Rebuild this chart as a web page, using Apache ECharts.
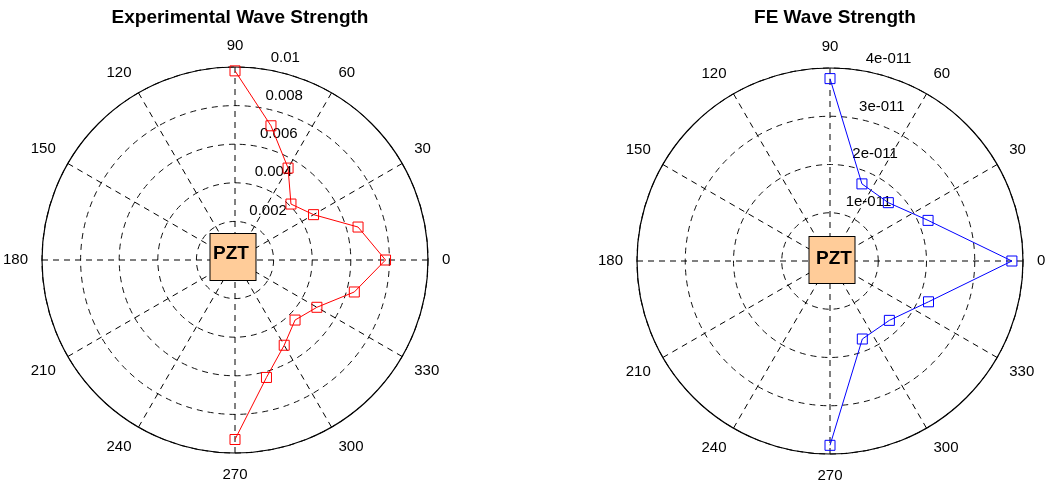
<!DOCTYPE html>
<html>
<head>
<meta charset="utf-8">
<script src="https://cdn.jsdelivr.net/npm/echarts@6/dist/echarts.min.js"></script>
<style>html,body{margin:0;padding:0;background:#fff}#c{width:1045px;height:488px}</style>
</head>
<body>
<div id="c"></div>
<script>
// ---- data ----
const titles = ['Experimental Wave Strength', 'FE Wave Strength'];
const expAngles = [90, 75, 60, 45, 30, 15, 0, 345, 330, 315, 300, 285, 270];
const expValues = [0.0098, 0.0072, 0.0055, 0.0041, 0.0047, 0.0066, 0.0078, 0.0064, 0.0049, 0.0044, 0.0051, 0.0063, 0.0093];
const feAngles = [90, 67.5, 45, 22.5, 0, 337.5, 315, 292.5, 270];
const feValues = [3.78e-11, 1.73e-11, 1.71e-11, 2.2e-11, 3.77e-11, 2.21e-11, 1.74e-11, 1.75e-11, 3.82e-11];
const angleTicks = [0, 30, 60, 90, 120, 150, 180, 210, 240, 270, 300, 330];
const expRadiusTicks = [0.002, 0.004, 0.006, 0.008, 0.01];
const expRadiusLabels = ['0.002', '0.004', '0.006', '0.008', '0.01'];
const feRadiusTicks = [1e-11, 2e-11, 3e-11, 4e-11];
const feRadiusLabels = ['1e-011', '2e-011', '3e-011', '4e-011'];
const boxLabel = 'PZT';

const FONT = 'Liberation Sans, Arial, sans-serif';
const chart = echarts.init(document.getElementById('c'));

const panels = [
  {center: [235, 260], radius: 193, max: 0.01, step: 0.002, ticks: expRadiusTicks, labels: expRadiusLabels,
   angles: expAngles, values: expValues, color: '#ff0000', boxOffset: [-2, -3]},
  {center: [830, 261], radius: 193, max: 4e-11, step: 1e-11, ticks: feRadiusTicks, labels: feRadiusLabels,
   angles: feAngles, values: feValues, color: '#0000ff', boxOffset: [2, -1]}
];

const polar = [], angleAxis = [], radiusAxis = [], series = [], title = [];
panels.forEach((p, i) => {
  title.push({text: titles[i], left: p.center[0], top: 3, textAlign: 'center',
    textStyle: {fontFamily: FONT, fontSize: 19, fontWeight: 'bold', color: '#000'}});
  // main polar
  polar.push({center: p.center, radius: p.radius});
  angleAxis.push({
    polarIndex: 2 * i, type: 'value', min: 0, max: 360, interval: 30, startAngle: 0, clockwise: false,
    axisLine: {show: true, lineStyle: {color: '#000', width: 1.2}},
    axisTick: {show: false},
    axisLabel: {show: true, margin: 14, align: 'center', verticalAlign: 'middle',
      color: '#000', fontFamily: FONT, fontSize: 15,
      formatter: v => angleTicks.indexOf(v) >= 0 ? String(v) : ''},
    splitLine: {show: true, lineStyle: {color: '#000', type: [6, 5], width: 1}}
  });
  radiusAxis.push({
    polarIndex: 2 * i, type: 'value', min: 0, max: p.max, interval: p.step,
    axisLine: {show: false}, axisTick: {show: false}, axisLabel: {show: false},
    splitLine: {show: true, lineStyle: {color: '#111', type: [6, 5], width: 1}}
  });
  // overlay polar for radial tick labels at 82 deg
  polar.push({center: p.center, radius: p.radius});
  angleAxis.push({
    polarIndex: 2 * i + 1, type: 'value', min: 0, max: 360, startAngle: 82, clockwise: false,
    axisLine: {show: false}, axisTick: {show: false}, axisLabel: {show: false}, splitLine: {show: false}
  });
  radiusAxis.push({
    polarIndex: 2 * i + 1, type: 'value', min: 0, max: p.max, interval: p.step,
    axisLine: {show: false}, axisTick: {show: false}, splitLine: {show: false},
    axisLabel: {show: true, color: '#000', fontFamily: FONT, fontSize: 15, rotate: 0,
      align: 'left', verticalAlign: 'bottom', margin: -9, padding: [0, 0, 5, 0],
      formatter: v => {
        const k = p.ticks.findIndex(t => Math.abs(t - v) < p.step * 1e-3);
        return k >= 0 ? p.labels[k] : '';
      }}
  });
  series.push({
    type: 'line', coordinateSystem: 'polar', polarIndex: 2 * i,
    data: p.values.map((v, k) => [v, p.angles[k]]),
    symbol: 'rect', symbolSize: 10,
    lineStyle: {color: p.color, width: 1},
    itemStyle: {color: 'rgba(0,0,0,0)', borderColor: p.color, borderWidth: 1},
    z: 3, animation: false
  });
  series.push({
    type: 'scatter', coordinateSystem: 'polar', polarIndex: 2 * i,
    data: [[0, 0]], symbol: 'rect', symbolSize: [46, 47], symbolOffset: p.boxOffset,
    itemStyle: {color: '#ffcc99', borderColor: '#000', borderWidth: 1, opacity: 1},
    label: {show: true, position: 'inside', formatter: boxLabel, color: '#000',
      fontFamily: FONT, fontSize: 19, fontWeight: 'bold', offset: p.boxOffset},
    z: 4, animation: false, silent: true
  });
});

chart.setOption({
  animation: false, backgroundColor: '#fff',
  title, polar, angleAxis, radiusAxis, series
});
</script>
</body>
</html>
